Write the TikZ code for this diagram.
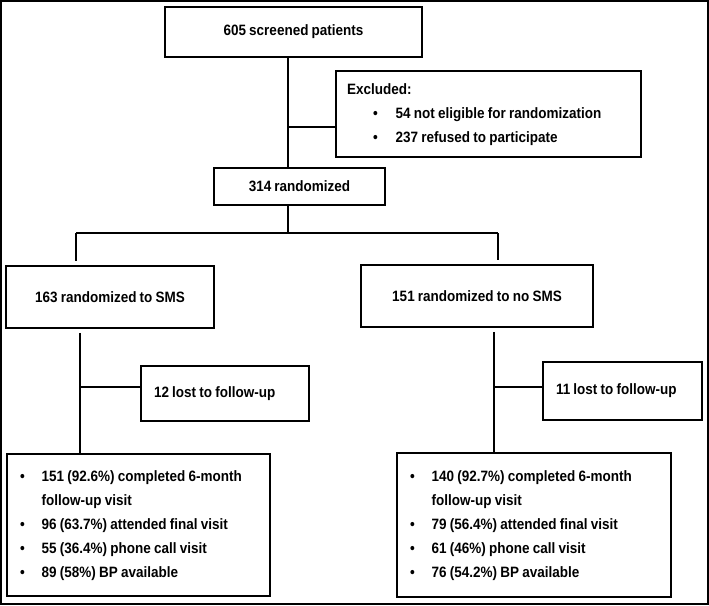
\documentclass[tikz,border=0pt]{standalone}
\usepackage{fontspec}
\setmainfont[FakeStretch=0.9,WordSpace=0.85]{Liberation Sans}
\usetikzlibrary{calc}

\begin{document}
\begin{tikzpicture}[x=1pt,y=-1pt,line width=1.8pt]
        %
        % `box' is used for every box of the flow chart.
        % `list' is used for the boxes holding bullet points.
        % `frame' is used for the outer border.
        \tikzstyle{box} = [draw,rectangle,inner sep=0pt,font=\bfseries\fontsize{15}{24}\selectfont]
        \tikzstyle{list} = [box,align=left,inner xsep=13pt,execute at begin node={\spaceskip=0pt\xspaceskip=0pt}]
        \tikzstyle{frame} = [draw,line width=2pt]
        %
        \useasboundingbox (0,0) rectangle (709,605);
        \draw[frame] (1,1) rectangle (708,604);
        %
        % Screening
        \node[box,minimum width=257,minimum height=50] (screened) at (293.5,32) {605 screened patients};
        \node[list,minimum width=305,minimum height=86,text width=283,inner xsep=11pt] (excluded) at (488.5,114) {%
          \begin{tabular}{@{\hspace{26pt}}l@{\hspace{18pt}}l@{}}
          \multicolumn{2}{@{}l@{}}{Excluded:}\\
          \textbullet & 54 not eligible for randomization\\
          \textbullet & 237 refused to participate
          \end{tabular}};
        \node[box,minimum width=171,minimum height=37] (randomized) at (299.5,186.5) {314 randomized};
        %
        % Arms
        \node[box,minimum width=208,minimum height=62] (sms) at (110,297) {163 randomized to SMS};
        \node[box,minimum width=232,minimum height=62] (nosms) at (477,296) {151 randomized to no SMS};
        %
        % Losses
        \node[list,minimum width=168,minimum height=55,text width=142] (lostsms) at (225,393.5) {12 lost to follow-up};
        \node[list,minimum width=159,minimum height=58,text width=133] (lostno) at (622.5,391) {11 lost to follow-up};
        %
        % Follow-up
        \node[list,minimum width=263,minimum height=142,text width=237] (endsms) at (138.5,525) {%
          \begin{tabular}{@{}l@{\hspace{17pt}}l@{}}
          \textbullet & 151 (92.6\%) completed 6-month\\
                      & follow-up visit\\
          \textbullet & 96 (63.7\%) attended final visit\\
          \textbullet & 55 (36.4\%) phone call visit\\
          \textbullet & 89 (58\%) BP available
          \end{tabular}};
        \node[list,minimum width=274,minimum height=144,text width=248] (endno) at (534,525) {%
          \begin{tabular}{@{}l@{\hspace{17pt}}l@{}}
          \textbullet & 140 (92.7\%) completed 6-month\\
                      & follow-up visit\\
          \textbullet & 79 (56.4\%) attended final visit\\
          \textbullet & 61 (46\%) phone call visit\\
          \textbullet & 76 (54.2\%) BP available
          \end{tabular}};
        %
        % Trunk
        \coordinate (stem) at (288,127);
        \draw (screened.south -| stem) -- (randomized.north -| stem);
        \draw (stem) -- (stem -| excluded.west);
        %
        % Split
        \coordinate (split) at (288,233);
        \coordinate (armsms) at (76,233);
        \coordinate (armno) at (498,233);
        \draw (randomized.south -| split) -- (split);
        \draw (armsms) -- (armno);
        \draw[shorten >=4pt] (armsms) -- (armsms |- sms.north);
        \draw[shorten >=4pt] (armno) -- (armno |- nosms.north);
        %
        % Branches down to follow-up
        \coordinate (lossms) at (80,387);
        \coordinate (lossno) at (494,387);
        \draw[shorten <=4pt] (lossms |- sms.south) -- (lossms |- endsms.north);
        \draw[shorten <=4pt] (lossno |- nosms.south) -- (lossno |- endno.north);
        \draw (lossms) -- (lossms -| lostsms.west);
        \draw (lossno) -- (lossno -| lostno.west);
        %
\end{tikzpicture}
\end{document}
